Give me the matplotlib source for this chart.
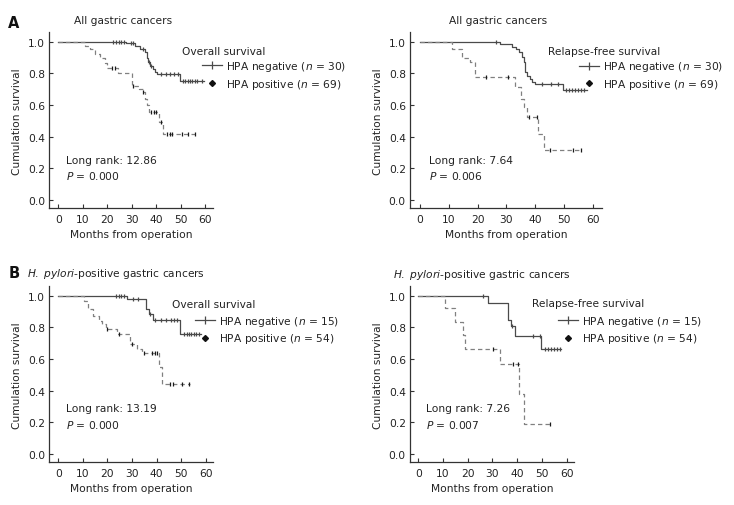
import numpy as np
import matplotlib
matplotlib.use("Agg")
from matplotlib import pyplot as plt
from matplotlib.lines import Line2D

plt.rcParams['font.family'] = 'DejaVu Sans'
plt.rcParams['font.size'] = 7.7
plt.rcParams['mathtext.fontset'] = 'dejavusans'

# Step curves: event times (months), survival after each event,
# censor times, last follow-up.
# A - all gastric cancers, overall survival
os_all_neg_t = [27.5, 31.5, 33.5, 35.5, 36.2, 36.8, 37.5, 38.5, 39.5, 40.2, 49.8]
os_all_neg_s = [0.99, 0.975, 0.955, 0.935, 0.90, 0.87, 0.85, 0.83, 0.81, 0.795, 0.755]
os_all_neg_c = [22.5, 23.6, 24.7, 25.7, 26.7, 29.5, 30.5, 34.5, 37.0, 38.0, 42.0, 44.0, 45.7,
                47.4, 48.9, 50.8, 51.8, 52.8, 53.8, 54.8, 55.8, 56.8, 58.5]
os_all_neg_end = 59.5
os_all_pos_t = [11, 13, 15, 17, 19, 20, 24.3, 30.2, 33, 34.5, 35.5, 36.2, 37, 41, 42.8]
os_all_pos_s = [0.975, 0.955, 0.92, 0.895, 0.865, 0.834, 0.80, 0.722, 0.70, 0.68, 0.64, 0.60,
                0.554, 0.49, 0.42]
os_all_pos_c = [22, 23.3, 30.6, 34.7, 37.8, 39, 40, 41.8, 44.5, 45.5, 46.5, 50.5, 53, 56]
os_all_pos_end = 56.5

# A - all gastric cancers, relapse-free survival
rfs_all_neg_t = [27.8, 32, 33.5, 34.5, 35.5, 36, 36.3, 37.1, 38.3, 39, 40, 49.7]
rfs_all_neg_s = [0.985, 0.97, 0.954, 0.933, 0.902, 0.87, 0.806, 0.785, 0.765, 0.745, 0.735, 0.695]
rfs_all_neg_c = [26.3, 42.5, 45.5, 48, 50.8, 51.8, 52.8, 53.8, 54.8, 55.8, 56.8]
rfs_all_neg_end = 58
rfs_all_pos_t = [11, 14.6, 17.4, 19.1, 33, 35, 36, 37, 41, 42.9]
rfs_all_pos_s = [0.955, 0.90, 0.87, 0.78, 0.715, 0.64, 0.585, 0.522, 0.418, 0.316]
rfs_all_pos_c = [23, 30.5, 38, 40.5, 45, 53, 56]
rfs_all_pos_end = 56.2

# B - H. pylori-positive, overall survival
os_hp_neg_t = [28, 35.6, 36.8, 38.4, 49.7]
os_hp_neg_s = [0.979, 0.916, 0.884, 0.845, 0.76]
os_hp_neg_c = [23.5, 24.6, 25.7, 26.8, 30.4, 32.5, 37.5, 39.3, 42, 44, 45.8, 47.1, 48.5,
               51.2, 52.2, 53.2, 54.2, 55.2, 56.2, 57.2]
os_hp_neg_end = 58
os_hp_pos_t = [10.3, 12.2, 14.3, 16.7, 17.7, 19.4, 23.8, 29.3, 32, 34, 40.8, 42.4]
os_hp_pos_s = [0.968, 0.916, 0.874, 0.842, 0.821, 0.79, 0.758, 0.695, 0.663, 0.638, 0.548, 0.442]
os_hp_pos_c = [19.9, 24.8, 30, 34.7, 38.3, 39.2, 40.2, 45.3, 46.5, 50.5, 53.2]
os_hp_pos_end = 53.5

# B - H. pylori-positive, relapse-free survival
rfs_hp_neg_t = [28, 36.1, 37.6, 39.2, 49.8]
rfs_hp_neg_s = [0.956, 0.85, 0.806, 0.745, 0.662]
rfs_hp_neg_c = [26.3, 38, 46.5, 49.3, 51.3, 52.5, 53.8, 55, 56.2, 57.4]
rfs_hp_neg_end = 57.9
rfs_hp_pos_t = [10.9, 15, 18, 18.9, 32.9, 40.8, 42.8]
rfs_hp_pos_s = [0.92, 0.835, 0.752, 0.665, 0.568, 0.378, 0.19]
rfs_hp_pos_c = [30.3, 38.4, 40.2, 53.3]
rfs_hp_pos_end = 53.4

x_ticks = [0, 10, 20, 30, 40, 50, 60]
y_ticks = [0.0, 0.2, 0.4, 0.6, 0.8, 1.0]

W, H = 734, 506
NEG = '#4a4a4a'
POS = '#808080'
TXT = '#222222'

fig = plt.figure(figsize=(W / 100, H / 100), dpi=100)


def fx(x):
    return x / W


def fy(y):
    return 1 - y / H


def km(ax, t, s, cens, end, color, ls, cmark):
    tt = np.array([0] + t + [end])
    ss = np.array([1.0] + s + [s[-1]])
    ax.plot(tt, ss, drawstyle='steps-post', color=color, lw=0.9, ls=ls)
    idx = np.searchsorted(tt, cens, side='right') - 1
    ax.plot(cens, ss[idx], ls='none', marker='|', ms=3.5, mew=0.9, color=cmark)


def panel(box, xlim, neg, pos, title, title_xy, legtitle, legtitle_xy, n_neg, n_pos, leg_xy,
          rank, rank_xy):
    l, t, r, b = box
    ax = fig.add_axes([fx(l), fy(b), (r - l) / W, (b - t) / H])
    km(ax, *neg, NEG, '-', NEG)
    km(ax, *pos, POS, (0, (3.5, 2.5)), '#1a1a1a')
    ax.set_xlim(*xlim)
    ax.set_ylim(-0.053, 1.06)
    ax.set_xticks(x_ticks)
    ax.set_yticks(y_ticks)
    ax.set_yticklabels(['%.1f' % v for v in y_ticks])
    for sp in ['top', 'right']:
        ax.spines[sp].set_visible(False)
    for sp in ['left', 'bottom']:
        ax.spines[sp].set_color('#333333')
        ax.spines[sp].set_linewidth(0.9)
    ax.tick_params(direction='in', length=3, width=0.8, color='#333333', labelcolor=TXT)
    ax.tick_params(axis='x', pad=4)
    ax.tick_params(axis='y', pad=3)
    ax.set_xlabel('Months from operation', color=TXT, labelpad=4)
    ax.set_ylabel('Cumulation survival', color=TXT, labelpad=4)

    fig.text(fx(title_xy[0]), fy(title_xy[1]), title, ha='left', va='center', color=TXT)
    fig.text(fx(legtitle_xy[0]), fy(legtitle_xy[1]), legtitle, ha='left', va='center', color=TXT)
    handles = [Line2D([], [], color=NEG, lw=0.9, marker='|', ms=6, mew=0.9),
               Line2D([], [], ls='none', marker='D', ms=3, color='#111111')]
    labels = ['HPA negative ($n$ = %d)' % n_neg, 'HPA positive ($n$ = %d)' % n_pos]
    ax.legend(handles, labels, loc='center left', bbox_to_anchor=(fx(leg_xy[0]), fy(leg_xy[1])),
              bbox_transform=fig.transFigure, frameon=False, borderpad=0, borderaxespad=0,
              handlelength=1.9, handletextpad=0.35, labelspacing=0.35, labelcolor=TXT)
    fig.text(fx(rank_xy[0]), fy(rank_xy[1]), 'Long rank: %s' % rank, ha='left', va='center', color=TXT)
    return ax


def p_text(x, y, p):
    fig.text(fx(x), fy(y), '$P$ = %s' % p, ha='left', va='center', color=TXT)


hp_title = r'$\it{H.\ pylori}$-positive gastric cancers'

panel((49.3, 33.3, 213.3, 209.3), (-3.7, 63.3),
      (os_all_neg_t, os_all_neg_s, os_all_neg_c, os_all_neg_end),
      (os_all_pos_t, os_all_pos_s, os_all_pos_c, os_all_pos_end),
      'All gastric cancers', (74, 20.7), 'Overall survival', (181.7, 52.3), 30, 69,
      (202, 76), '12.86', (65.7, 160.7))
p_text(65.7, 175.7, '0.000')

panel((410, 33.3, 601.7, 209.3), (-3.47, 63.1),
      (rfs_all_neg_t, rfs_all_neg_s, rfs_all_neg_c, rfs_all_neg_end),
      (rfs_all_pos_t, rfs_all_pos_s, rfs_all_pos_c, rfs_all_pos_end),
      'All gastric cancers', (449, 20.7), 'Relapse-free survival', (548.3, 52.3), 30, 69,
      (579, 76.3), '7.64', (429.3, 160.7))
p_text(429.3, 175.7, '0.006')

panel((49.3, 287.3, 213.3, 463.3), (-3.66, 63.1),
      (os_hp_neg_t, os_hp_neg_s, os_hp_neg_c, os_hp_neg_end),
      (os_hp_pos_t, os_hp_pos_s, os_hp_pos_c, os_hp_pos_end),
      hp_title, (26.7, 274), 'Overall survival', (171.7, 305), 15, 54,
      (195, 330.5), '13.19', (65.7, 409.3))
p_text(65.7, 425, '0.000')

panel((410, 287.3, 574, 463.3), (-3.36, 63.0),
      (rfs_hp_neg_t, rfs_hp_neg_s, rfs_hp_neg_c, rfs_hp_neg_end),
      (rfs_hp_pos_t, rfs_hp_pos_s, rfs_hp_pos_c, rfs_hp_pos_end),
      hp_title, (392.7, 275), 'Relapse-free survival', (532.3, 304.3), 15, 54,
      (558, 330.5), '7.26', (425.7, 409.3))
p_text(425.7, 425, '0.007')

fig.text(fx(8), fy(23), 'A', fontsize=10.5, fontweight='bold', ha='left', va='center', color='#111111')
fig.text(fx(9), fy(274), 'B', fontsize=10.5, fontweight='bold', ha='left', va='center', color='#111111')

fig.savefig('out.png', dpi=100, facecolor='white')
